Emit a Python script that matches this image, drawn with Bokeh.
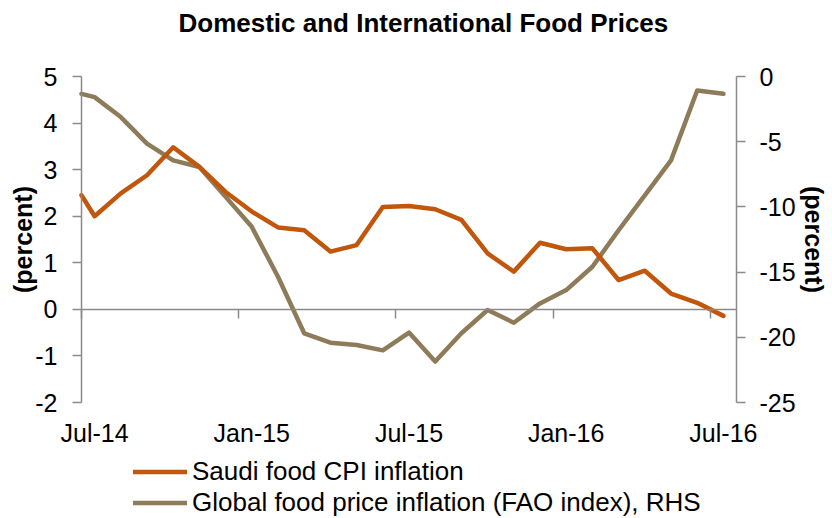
from bokeh.plotting import figure
from bokeh.models import (Range1d, LinearAxis, FixedTicker, Legend, LegendItem, Label)
from bokeh.embed import file_html
from bokeh.resources import INLINE

# ---- data (months from Jul-14; -0.5 is the chart's left edge) ----
months = [-0.5] + list(range(0, 25))
saudi_cpi = [2.45, 2.00, 2.49, 2.88, 3.48, 3.06, 2.52, 2.10, 1.76, 1.70, 1.24,
             1.38, 2.20, 2.22, 2.15, 1.92, 1.20, 0.81, 1.43, 1.29, 1.31, 0.63,
             0.83, 0.34, 0.14, -0.14]
global_fao = [-1.33, -1.58, -3.11, -5.15, -6.43, -6.94, -9.23, -11.53, -15.36,
              -19.69, -20.41, -20.59, -21.0, -19.64, -21.86, -19.69, -17.91,
              -18.88, -17.40, -16.38, -14.59, -11.79, -9.11, -6.43, -1.07, -1.33]
tick_pos = [0, 6, 12, 18, 24]
tick_labels = ["Jul-14", "Jan-15", "Jul-15", "Jan-16", "Jul-16"]
boundary_ticks = [-0.5, 5.5, 11.5, 17.5, 23.5]
left_ticks = [-2, -1, 0, 1, 2, 3, 4, 5]
right_ticks = [-25, -20, -15, -10, -5, 0]
title_text = "Domestic and International Food Prices"

ORANGE = "#C0570C"
BROWN = "#8E7B5A"
AXIS = "#8A8A8A"
FONT = "Liberation Sans"

# ---- layout: the plotting frame covers the whole canvas; the chart box
# (axes) sits inside it at these pixel positions ----
W, H = 832, 518
BOX_L, BOX_R, BOX_T, BOX_B = 81, 736, 76, 402
X_LO, X_HI = -0.5, 24.5
L_LO, L_HI = -2, 5
R_LO, R_HI = -25, 0

def expand(lo, hi, a, b, pa, pb):
    # data range lo..hi occupies pixels a..b of a span pa..pb
    k = (hi - lo) / (b - a)
    return lo - (a - pa) * k, hi + (pb - b) * k

xr = Range1d(*expand(X_LO, X_HI, BOX_L, BOX_R, 0, W))
yr = Range1d(*expand(L_LO, L_HI, H - BOX_B, H - BOX_T, 0, H))
rr = Range1d(*expand(R_LO, R_HI, H - BOX_B, H - BOX_T, 0, H))

p = figure(width=W, height=H, output_backend="svg", toolbar_location=None,
           x_range=xr, y_range=yr,
           min_border_left=0, min_border_right=0, min_border_top=0,
           min_border_bottom=0)
p.extra_y_ranges = {"rhs": rr}
p.outline_line_color = None
p.xgrid.visible = False
p.ygrid.visible = False
p.background_fill_color = "white"

# label axis sitting under the chart box
xa = p.xaxis[0]
xa.fixed_location = L_LO
xa.ticker = FixedTicker(ticks=tick_pos)
xa.major_label_overrides = {t: l for t, l in zip(tick_pos, tick_labels)}
xa.axis_line_color = None
xa.major_tick_line_color = None
xa.minor_tick_line_color = None
xa.major_tick_out = 0
xa.major_label_standoff = 16
xa.major_label_text_font = FONT
xa.major_label_text_font_size = "25px"
xa.major_label_text_color = "black"

# zero-line axis with boundary ticks
zax = LinearAxis(ticker=FixedTicker(ticks=boundary_ticks), fixed_location=0,
                 bounds=(X_LO, X_HI))
zax.axis_line_color = AXIS
zax.axis_line_width = 1.5
zax.major_tick_line_color = AXIS
zax.major_tick_line_width = 1.5
zax.major_tick_out = 9
zax.major_tick_in = 0
zax.minor_tick_line_color = None
zax.major_label_text_font_size = "0px"
zax.major_label_text_alpha = 0
p.add_layout(zax, "below")

def style_y(ax, ticks, standoff, label_standoff):
    ax.ticker = FixedTicker(ticks=ticks)
    ax.major_label_overrides = {t: str(t) for t in ticks}
    ax.axis_line_color = AXIS
    ax.axis_line_width = 1.5
    ax.major_tick_line_color = AXIS
    ax.major_tick_line_width = 1.5
    ax.major_tick_out = 9
    ax.major_tick_in = 0
    ax.minor_tick_line_color = None
    ax.major_label_standoff = standoff
    ax.major_label_text_font = FONT
    ax.major_label_text_font_size = "25px"
    ax.major_label_text_color = "black"
    ax.axis_label = "(percent)"
    ax.axis_label_text_font = FONT
    ax.axis_label_text_font_size = "25px"
    ax.axis_label_text_font_style = "bold"
    ax.axis_label_text_color = "black"
    ax.axis_label_standoff = label_standoff

ya = p.yaxis[0]
ya.fixed_location = X_LO
ya.bounds = (L_LO, L_HI)
style_y(ya, left_ticks, 15, -5)

ra = LinearAxis(y_range_name="rhs", bounds=(R_LO, R_HI), fixed_location=X_HI)
style_y(ra, right_ticks, 14, 1)
p.add_layout(ra, "right")

r_glob = p.line(months, global_fao, y_range_name="rhs", color=BROWN,
                line_width=4.5, line_join="round", line_cap="round")
r_saudi = p.line(months, saudi_cpi, color=ORANGE, line_width=4.5,
                 line_join="round", line_cap="round")

title = Label(x=178, y=H - 22, x_units="screen", y_units="screen",
              text=title_text, text_font=FONT, text_font_size="26px",
              text_font_style="bold", text_color="black",
              text_align="left", text_baseline="alphabetic")
p.add_layout(title)

legend = Legend(items=[LegendItem(label="Saudi food CPI inflation", renderers=[r_saudi]),
                       LegendItem(label="Global food price inflation (FAO index), RHS", renderers=[r_glob])],
                location=(133, 0), orientation="vertical")
legend.background_fill_alpha = 0
legend.border_line_color = None
legend.padding = 0
legend.margin = 0
legend.spacing = -7
legend.glyph_width = 54
legend.glyph_height = 27
legend.label_height = 27
legend.label_standoff = 5
legend.label_text_font = FONT
legend.label_text_font_size = "26px"
legend.label_text_color = "black"
p.add_layout(legend, "center")

open("out.html", "w").write(file_html(p, INLINE))
